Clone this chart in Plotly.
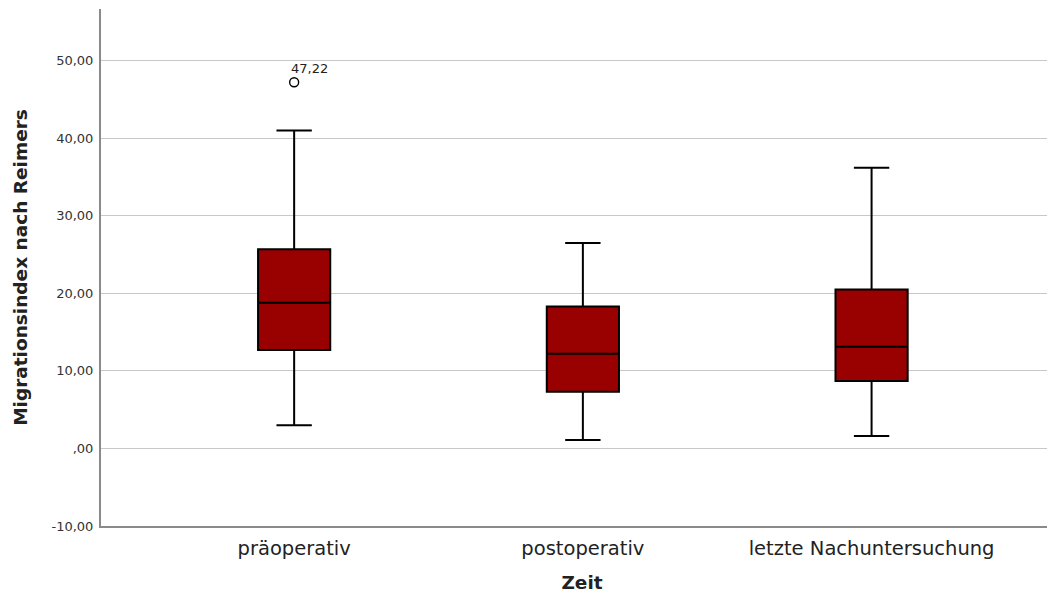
import plotly.graph_objects as go

categories = ["präoperativ", "postoperativ", "letzte Nachuntersuchung"]
lower_whisker = [3.0, 1.1, 1.6]
q1_values = [12.7, 7.3, 8.7]
median_values = [18.8, 12.2, 13.1]
q3_values = [25.7, 18.3, 20.5]
upper_whisker = [41.0, 26.5, 36.2]
outlier_category = ["präoperativ"]
outlier_values = [47.22]
y_tick_values = [-10, 0, 10, 20, 30, 40, 50]


def fmt(v):
    s = f"{v:.2f}".replace(".", ",")
    if s.startswith("0,"):
        s = s[1:]
    return s


y_tick_text = [fmt(v) for v in y_tick_values]

FONT = "DejaVu Sans"

fig = go.Figure()
fig.add_trace(go.Box(
    x=categories,
    q1=q1_values,
    median=median_values,
    q3=q3_values,
    lowerfence=lower_whisker,
    upperfence=upper_whisker,
    width=0.25,
    whiskerwidth=0.49,
    fillcolor="#990000",
    line=dict(color="black", width=2),
    boxpoints=False,
    showlegend=False,
    hoverinfo="skip",
))
fig.add_trace(go.Scatter(
    x=outlier_category,
    y=outlier_values,
    mode="markers",
    marker=dict(symbol="circle-open", size=9, color="black", line=dict(width=1.4, color="black")),
    showlegend=False,
))
for c, v in zip(outlier_category, outlier_values):
    fig.add_annotation(
        x=c, y=v, text=fmt(v), showarrow=False,
        xanchor="left", yanchor="bottom", xshift=-5, yshift=4,
        font=dict(family=FONT, size=13, color="#222222"),
    )

fig.update_layout(
    width=1055, height=597,
    margin=dict(l=93, r=0, t=1, b=79),
    paper_bgcolor="white", plot_bgcolor="white",
    font=dict(family=FONT, color="#222222"),
    xaxis=dict(
        type="category",
        categoryorder="array", categoryarray=categories,
        range=[-0.669, 2.663],
        showline=True, linecolor="#8a8a8a", linewidth=2,
        showgrid=False, ticks="",
        ticklabelstandoff=4,
        tickfont=dict(family=FONT, size=19.5, color="#222222"),
        title=dict(text="<b>Zeit</b>", font=dict(family=FONT, size=18.5, color="#222222"), standoff=17),
    ),
    yaxis=dict(
        range=[-10, 56.67],
        tickvals=y_tick_values, ticktext=y_tick_text,
        showline=True, linecolor="#8a8a8a", linewidth=2,
        showgrid=True, gridcolor="#c8c8c8", gridwidth=1.3,
        zeroline=False, ticks="",
        ticklabelstandoff=3,
        tickfont=dict(family=FONT, size=13, color="#333333"),
        title=dict(text="<b>Migrationsindex nach Reimers</b>", font=dict(family=FONT, size=18.5, color="#222222"), standoff=19),
    ),
)

fig.write_html("out.html")
